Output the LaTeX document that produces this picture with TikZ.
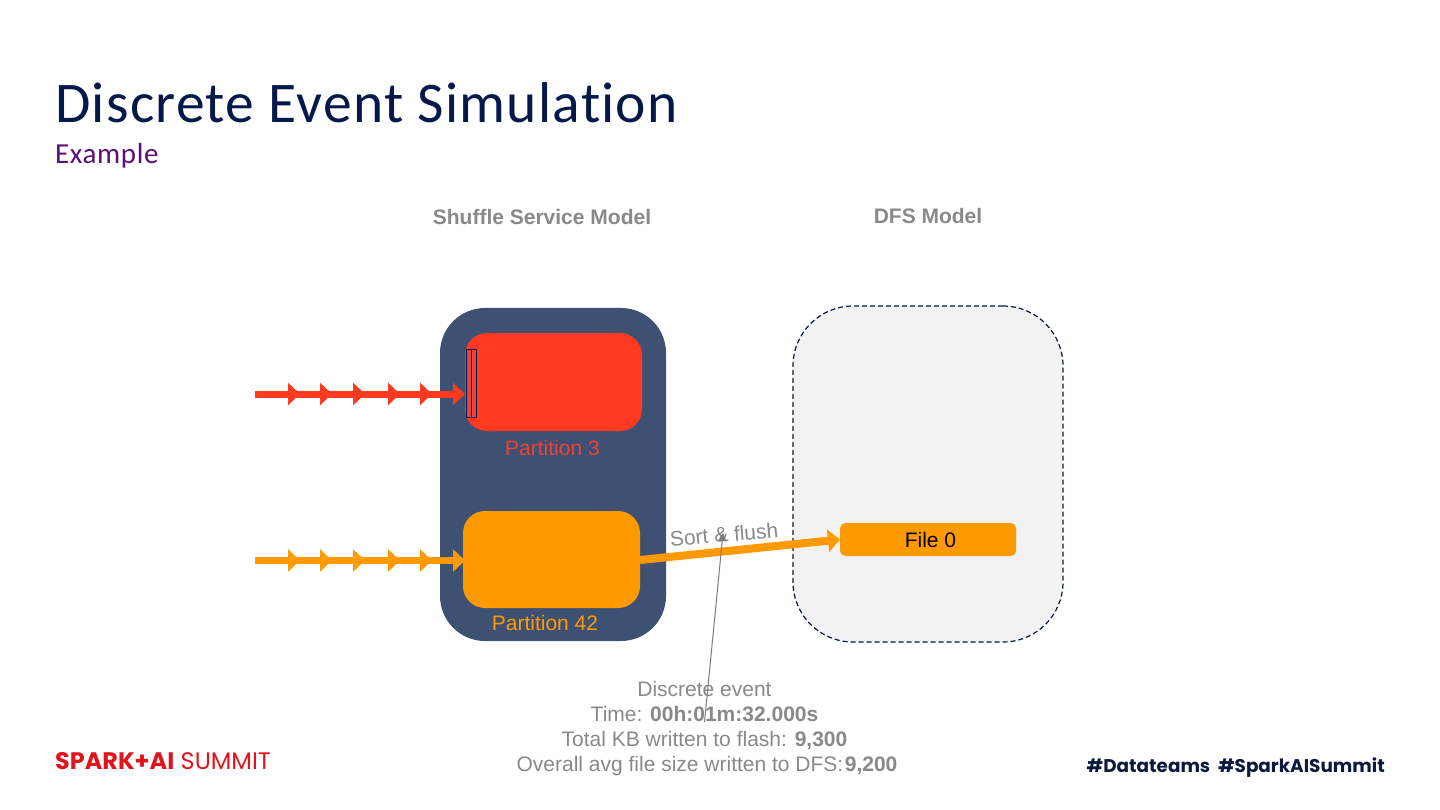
\documentclass[tikz,border=0pt]{standalone}
\usepackage{fontspec}
\setmainfont{Liberation Sans}
\newfontfamily\titlefont[LetterSpace=2.2,Ligatures=NoCommon]{Carlito}
\newfontfamily\logofont{Poppins}
\usetikzlibrary{arrows.meta}
\definecolor{navy}{HTML}{04184A}
\definecolor{purp}{HTML}{5A0F7A}
\definecolor{slate}{HTML}{3F5173}
\definecolor{redp}{HTML}{FF3A20}
\definecolor{redl}{HTML}{EA4335}
\definecolor{orangep}{HTML}{FF9900}
\definecolor{greyt}{HTML}{898989}
\definecolor{logored}{HTML}{E0141C}
\definecolor{dfsfill}{HTML}{F2F2F2}
\definecolor{hashc}{HTML}{0A1A3C}
\tikzset{
  box/.style={minimum width=#1,inner sep=0pt,outer sep=0pt},
  head/.style={font=\bfseries\fontsize{21}{24}\selectfont,text=greyt,inner sep=0pt},
  plabel/.style={font=\fontsize{21}{24}\selectfont,inner sep=0pt},
  evtext/.style={font=\fontsize{21}{25}\selectfont,text=greyt,inner sep=0pt,align=center},
  flowline/.style={line width=7pt},
  flowred/.style={draw=redp,line width=7pt,-{Triangle[length=12pt,width=22pt]}},
  floworange/.style={draw=orangep,line width=7pt,-{Triangle[length=12pt,width=22pt]}},
}
\begin{document}
\begin{tikzpicture}[x=1pt,y=-1pt]
\useasboundingbox (0,0) rectangle (1440,810);
\fill[white] (0,0) rectangle (1440,810);
% titles
\node[anchor=base west,inner sep=0pt,text=navy,font=\titlefont\fontsize{57.5}{60}\selectfont] (title) at (55,123) {Discrete Event Simulation};
\node[anchor=base west,inner sep=0pt,text=purp,font=\titlefont\fontsize{29}{32}\selectfont] (sub) at (55,163.5) {Example};
\node[head,anchor=base] (h1) at (542,224.5) {Shuffle Service Model};
\node[head,anchor=base] (h2) at (928,223.5) {DFS Model};
% containers
\node[box=226pt,minimum height=333pt,fill=slate,rounded corners=45pt] (shuffle) at (553,474.5) {};
\node[box=270pt,minimum height=336pt,fill=dfsfill,draw=navy,dash pattern=on 5pt off 3pt,line width=1.2pt,rounded corners=60pt] (dfs) at (928,474) {};
% partitions
\node[box=177pt,minimum height=98pt,fill=redp,rounded corners=22pt] (p3) at (553.5,382) {};
\node[box=177pt,minimum height=97pt,fill=orangep,rounded corners=22pt] (p42) at (551.5,559.5) {};
\node[box=176pt,minimum height=33pt,fill=orangep,rounded corners=6pt,font=\fontsize{21}{24}\selectfont,text=black] (f0) at (928,539.5) {\hspace*{5pt}File 0};
\node[plabel,text=redl,anchor=base] (l3) at (552.5,455) {Partition 3};
\node[plabel,text=orangep,anchor=base] (l42) at (545,630) {Partition 42};
% buffer cells
\node[box=5pt,minimum height=68pt,fill=redl,draw=navy,line width=1pt] (c1) at (468.5,383) {};
\node[box=5pt,minimum height=68pt,fill=redl,draw=navy,line width=1pt] (c2) at (473.5,383) {};
% incoming arrows
\foreach \n/\y/\s/\c in {r/394/flowred/redp,o/560.5/floworange/orangep}{
  \coordinate (\n0) at (255,\y);
  \coordinate (\n1) at (300,\y);
  \coordinate (\n2) at (332,\y);
  \coordinate (\n3) at (365,\y);
  \coordinate (\n4) at (400,\y);
  \coordinate (\n5) at (432,\y);
  \coordinate (\n6) at (465,\y);
  \draw[\s] (\n0) -- (\n1);
  \draw[\s] (\n1) -- (\n2);
  \draw[\s] (\n2) -- (\n3);
  \draw[\s] (\n3) -- (\n4);
  \draw[\s] (\n4) -- (\n5);
  \draw[\s] (\n5) -- (\n6);
  \draw[flowline,draw=\c] (\n0) -- ([xshift=-8pt]\n6);
}
% flush arrow
\coordinate (fs) at (640,560);
\draw[floworange,line width=8pt] (fs) -- (f0.west);
\node[font=\fontsize{21}{24}\selectfont,text=greyt,rotate=5,inner sep=0pt] (sf) at (724,534.5) {Sort \& flush};
% event
\node[evtext,anchor=north] (ev) at (704.5,681.5) {Discrete event\\Time: \textbf{00h:01m:32.000s}\\Total KB written to flash: \textbf{9,300}\\\hspace*{5pt}Overall avg file size written to DFS:\kern1.5pt\textbf{9,200}};
\coordinate (es) at (704.5,722);
\coordinate (ee) at (723,533);
\draw[greyt!90!black,line width=1pt,-{Triangle[length=8pt,width=8pt]}] (es) -- (ee);
% footer
\node[anchor=base west,inner sep=0pt,text=logored,font=\logofont\fontsize{23.9}{26}\selectfont] (logo) at (55,769) {\textbf{SPARK+AI} SUMMIT};
\node[anchor=base east,inner sep=0pt,text=hashc,font=\logofont\bfseries\fontsize{18.4}{24}\selectfont] (hash) at (1385,772) {\#Datateams\ \ \#SparkAISummit};
\end{tikzpicture}
\end{document}
